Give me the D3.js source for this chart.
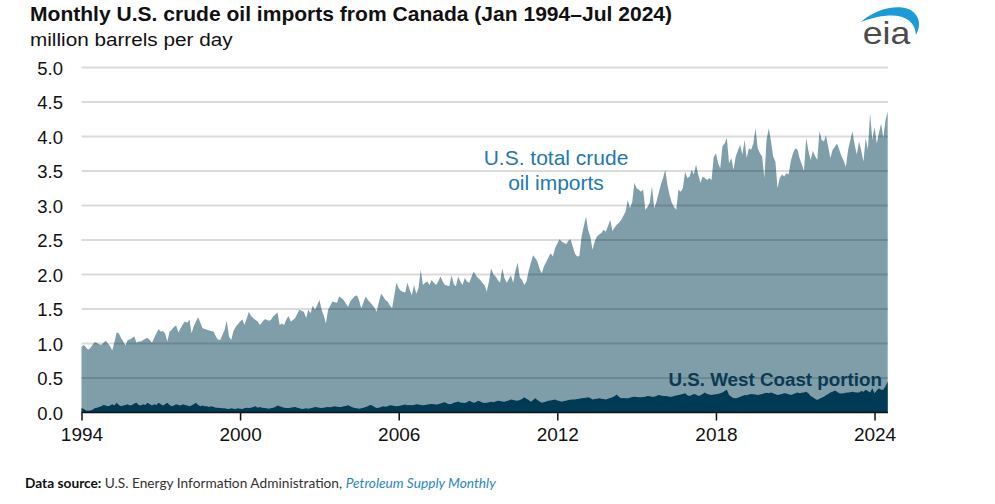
<!DOCTYPE html>
<html>
<head>
<meta charset="utf-8">
<script src="https://cdn.jsdelivr.net/npm/d3@7"></script>
<style>
  html, body { margin: 0; padding: 0; background: #fff; }
  svg { display: block; }
  text { font-family: "Liberation Sans", Arial, sans-serif; }
</style>
</head>
<body>
<div id="chart"></div>
<script>
// ---- Data (million barrels per day), monthly Jan 1994 – Jul 2024 ----
const totalImports = [
  0.95, 0.98, 0.95, 0.91, 0.93, 0.98, 1.02, 1.01, 0.99, 0.98, 1.01, 1.04, // 1994
  1.00, 0.96, 0.90, 1.02, 1.16, 1.15, 1.08, 1.03, 0.97, 1.05, 1.06, 1.08, // 1995
  1.10, 1.01, 1.03, 1.03, 1.05, 1.07, 1.08, 1.05, 1.01, 1.08, 1.15, 1.21, // 1996
  1.17, 1.18, 1.14, 1.03, 1.17, 1.20, 1.24, 1.26, 1.16, 1.22, 1.28, 1.32, // 1997
  1.30, 1.35, 1.15, 1.25, 1.32, 1.38, 1.30, 1.22, 1.21, 1.20, 1.19, 1.18, // 1998
  1.17, 1.10, 1.06, 1.05, 1.12, 1.20, 1.33, 1.10, 1.05, 1.18, 1.24, 1.28, // 1999
  1.32, 1.35, 1.27, 1.36, 1.46, 1.40, 1.37, 1.34, 1.32, 1.27, 1.31, 1.35, // 2000
  1.35, 1.33, 1.34, 1.39, 1.42, 1.45, 1.27, 1.29, 1.27, 1.35, 1.40, 1.32, // 2001
  1.34, 1.37, 1.43, 1.49, 1.47, 1.46, 1.37, 1.49, 1.44, 1.55, 1.49, 1.56, // 2002
  1.63, 1.49, 1.41, 1.29, 1.49, 1.55, 1.61, 1.60, 1.59, 1.68, 1.66, 1.63, // 2003
  1.58, 1.53, 1.61, 1.65, 1.68, 1.70, 1.63, 1.51, 1.60, 1.68, 1.63, 1.60, // 2004
  1.56, 1.52, 1.46, 1.60, 1.72, 1.68, 1.63, 1.61, 1.55, 1.51, 1.70, 1.88, // 2005
  1.80, 1.76, 1.75, 1.74, 1.88, 1.78, 1.70, 1.85, 1.72, 1.80, 2.07, 1.85, // 2006
  1.88, 1.90, 1.85, 1.92, 1.88, 1.85, 1.90, 1.97, 1.90, 1.85, 1.84, 1.83, // 2007
  1.99, 1.86, 1.83, 1.97, 1.90, 1.85, 1.95, 1.90, 1.88, 1.96, 2.04, 1.99, // 2008
  1.95, 1.92, 1.88, 1.85, 1.75, 1.90, 2.09, 2.00, 1.97, 1.92, 1.88, 2.09, // 2009
  1.95, 1.88, 1.93, 1.99, 1.88, 2.05, 2.17, 1.96, 1.92, 1.85, 1.90, 2.05, // 2010
  2.17, 2.28, 2.24, 2.19, 2.08, 2.02, 2.12, 2.18, 2.25, 2.31, 2.26, 2.38, // 2011
  2.45, 2.51, 2.48, 2.46, 2.44, 2.49, 2.51, 2.41, 2.30, 2.26, 2.27, 2.55, // 2012
  2.70, 2.84, 2.65, 2.55, 2.36, 2.48, 2.55, 2.58, 2.60, 2.65, 2.62, 2.70, // 2013
  2.79, 2.63, 2.68, 2.72, 2.75, 2.79, 2.85, 2.91, 3.08, 2.96, 3.05, 3.33, // 2014
  3.25, 3.23, 3.20, 3.23, 2.94, 2.98, 3.04, 3.28, 2.96, 3.05, 3.18, 3.30, // 2015
  3.40, 3.52, 3.30, 3.15, 3.04, 2.98, 2.94, 3.23, 3.20, 3.25, 3.49, 3.40, // 2016
  3.42, 3.52, 3.45, 3.59, 3.45, 3.33, 3.42, 3.40, 3.37, 3.40, 3.37, 3.70, // 2017
  3.76, 3.61, 3.54, 3.86, 3.90, 3.98, 3.61, 3.69, 3.52, 3.71, 3.80, 3.88, // 2018
  3.74, 3.95, 3.69, 3.83, 3.81, 3.90, 4.12, 3.83, 3.76, 3.71, 3.40, 3.95, // 2019
  4.12, 3.93, 3.71, 3.64, 3.25, 3.40, 3.45, 3.42, 3.47, 3.45, 3.65, 3.76, // 2020
  3.83, 3.81, 3.69, 3.60, 3.50, 3.98, 3.80, 3.66, 3.79, 3.72, 3.66, 4.08, // 2021
  3.95, 3.93, 4.02, 3.85, 3.69, 3.81, 3.85, 3.90, 3.81, 3.72, 3.65, 3.56, // 2022
  3.81, 3.95, 4.08, 3.88, 3.74, 3.93, 3.80, 3.64, 3.98, 3.81, 4.34, 3.95, // 2023
  4.14, 3.90, 4.05, 4.19, 3.98, 4.24, 4.36                                // 2024
];

const westCoast = [
  0.065, 0.05, 0.03, 0.025, 0.03, 0.04, 0.06, 0.07, 0.08, 0.09, 0.11, 0.10, // 1994
  0.09, 0.10, 0.12, 0.10, 0.14, 0.11, 0.09, 0.10, 0.11, 0.12, 0.10, 0.11,   // 1995
  0.13, 0.14, 0.11, 0.10, 0.12, 0.11, 0.14, 0.12, 0.10, 0.12, 0.11, 0.14,   // 1996
  0.12, 0.10, 0.12, 0.14, 0.11, 0.09, 0.10, 0.12, 0.11, 0.10, 0.12, 0.11,   // 1997
  0.10, 0.09, 0.10, 0.12, 0.14, 0.11, 0.09, 0.10, 0.09, 0.09, 0.08, 0.09,   // 1998
  0.08, 0.07, 0.07, 0.065, 0.06, 0.06, 0.055, 0.05, 0.06, 0.055, 0.05, 0.06, // 1999
  0.055, 0.05, 0.06, 0.07, 0.065, 0.07, 0.08, 0.09, 0.07, 0.08, 0.07, 0.065, // 2000
  0.06, 0.055, 0.06, 0.07, 0.08, 0.10, 0.09, 0.08, 0.07, 0.065, 0.065, 0.07, // 2001
  0.075, 0.08, 0.07, 0.06, 0.05, 0.055, 0.06, 0.055, 0.06, 0.07, 0.08, 0.075, // 2002
  0.07, 0.065, 0.07, 0.075, 0.08, 0.075, 0.085, 0.09, 0.085, 0.08, 0.08, 0.09, // 2003
  0.095, 0.105, 0.09, 0.075, 0.065, 0.06, 0.055, 0.06, 0.07, 0.08, 0.09, 0.11, // 2004
  0.10, 0.08, 0.065, 0.07, 0.08, 0.09, 0.085, 0.09, 0.105, 0.10, 0.095, 0.09, // 2005
  0.095, 0.10, 0.11, 0.115, 0.105, 0.11, 0.105, 0.11, 0.12, 0.115, 0.11, 0.105, // 2006
  0.11, 0.115, 0.12, 0.125, 0.12, 0.115, 0.12, 0.13, 0.14, 0.15, 0.13, 0.12, // 2007
  0.125, 0.14, 0.15, 0.16, 0.145, 0.14, 0.138, 0.15, 0.17, 0.155, 0.14, 0.15, // 2008
  0.17, 0.16, 0.145, 0.138, 0.14, 0.15, 0.157, 0.15, 0.16, 0.17, 0.165, 0.16, // 2009
  0.157, 0.165, 0.175, 0.19, 0.18, 0.175, 0.17, 0.18, 0.195, 0.22, 0.20, 0.18, // 2010
  0.157, 0.18, 0.206, 0.18, 0.16, 0.14, 0.15, 0.16, 0.17, 0.175, 0.18, 0.19, // 2011
  0.175, 0.165, 0.157, 0.165, 0.17, 0.18, 0.185, 0.19, 0.19, 0.195, 0.20, 0.206, // 2012
  0.21, 0.215, 0.22, 0.21, 0.19, 0.195, 0.20, 0.206, 0.20, 0.195, 0.19, 0.20, // 2013
  0.21, 0.22, 0.235, 0.26, 0.23, 0.206, 0.21, 0.205, 0.206, 0.215, 0.225, 0.23, // 2014
  0.225, 0.22, 0.22, 0.225, 0.23, 0.24, 0.235, 0.23, 0.23, 0.24, 0.254, 0.245, // 2015
  0.24, 0.24, 0.235, 0.23, 0.23, 0.24, 0.245, 0.254, 0.26, 0.27, 0.28, 0.25, // 2016
  0.24, 0.255, 0.27, 0.26, 0.24, 0.25, 0.27, 0.29, 0.27, 0.26, 0.254, 0.26, // 2017
  0.265, 0.27, 0.28, 0.29, 0.31, 0.33, 0.254, 0.23, 0.21, 0.206, 0.215, 0.23, // 2018
  0.24, 0.254, 0.25, 0.26, 0.27, 0.265, 0.26, 0.254, 0.26, 0.27, 0.28, 0.285, // 2019
  0.28, 0.29, 0.28, 0.265, 0.254, 0.26, 0.27, 0.28, 0.275, 0.265, 0.254, 0.265, // 2020
  0.28, 0.29, 0.28, 0.285, 0.29, 0.30, 0.28, 0.24, 0.22, 0.20, 0.18, 0.20, // 2021
  0.215, 0.23, 0.25, 0.27, 0.29, 0.30, 0.32, 0.30, 0.28, 0.275, 0.28, 0.285, // 2022
  0.29, 0.295, 0.30, 0.295, 0.29, 0.29, 0.31, 0.30, 0.33, 0.31, 0.29, 0.35, // 2023
  0.28, 0.32, 0.35, 0.33, 0.33, 0.38, 0.45                                   // 2024
];

const firstMonth = [1994, 0];          // Jan 1994
const lastMonth = [2024, 6];           // Jul 2024
const xTickYears = [1994, 2000, 2006, 2012, 2018, 2024];
const yTickValues = [0, 0.5, 1, 1.5, 2, 2.5, 3, 3.5, 4, 4.5, 5];

const titleText = "Monthly U.S. crude oil imports from Canada (Jan 1994\u2013Jul 2024)";
const unitText = "million barrels per day";
const totalLabel = ["U.S. total crude", "oil imports"];
const westLabel = "U.S. West Coast portion";

// ---- Drawing ----
const W = 995, H = 504;
const svg = d3.select("#chart").append("svg")
  .attr("width", W).attr("height", H)
  .attr("viewBox", `0 0 ${W} ${H}`);

svg.append("rect").attr("width", W).attr("height", H).attr("fill", "#fff");

const start = new Date(firstMonth[0], firstMonth[1], 1);
const end = new Date(lastMonth[0], lastMonth[1], 1);
const dates = totalImports.map((d, i) => d3.timeMonth.offset(start, i));

const x = d3.scaleTime().domain([start, end]).range([81.5, 887.7]);
const y = d3.scaleLinear().domain([0, 5]).range([412.5, 67.6]);

const totalSeries = totalImports.map((v, i) => ({ date: dates[i], v }));
const westSeries = westCoast.map((v, i) => ({ date: dates[i], v }));

const area = d3.area()
  .x(d => x(d.date))
  .y0(y(0))
  .y1(d => y(d.v));

svg.append("path").datum(totalSeries)
  .attr("d", area)
  .attr("fill", "#7f9eaa");

svg.append("path").datum(westSeries)
  .attr("d", area)
  .attr("fill", "#003a54");

// gridlines (drawn over the areas, translucent)
const grid = svg.append("g");
grid.selectAll("line")
  .data(yTickValues.filter(v => v > 0))
  .join("line")
  .attr("x1", 81.5).attr("x2", 888)
  .attr("y1", d => y(d)).attr("y2", d => y(d))
  .attr("stroke", "#000")
  .attr("stroke-opacity", 0.14)
  .attr("stroke-width", 2);

const yAxis = d3.axisLeft(y)
  .tickValues(yTickValues)
  .tickFormat(d3.format(".1f"))
  .tickSize(0)
  .tickPadding(0);

const gy = svg.append("g").attr("transform", "translate(63,0)").call(yAxis);
gy.select(".domain").remove();
gy.selectAll("text")
  .attr("font-family", "'Liberation Sans', Arial, sans-serif")
  .attr("font-size", 18.5)
  .attr("fill", "#111")
  .attr("dy", "0.36em");

// x axis
const xAxis = d3.axisBottom(x)
  .tickValues(xTickYears.map(yy => new Date(yy, 0, 1)))
  .tickFormat(d3.timeFormat("%Y"))
  .tickSize(8)
  .tickSizeOuter(0)
  .tickPadding(7);

const gx = svg.append("g").attr("transform", `translate(0,${y(0)})`).call(xAxis);
gx.select(".domain").attr("stroke", "#111").attr("stroke-width", 1.5)
  .attr("d", `M81.5,0H888`);
gx.selectAll(".tick line").attr("stroke", "#111").attr("stroke-width", 1.5);
gx.selectAll("text")
  .attr("font-family", "'Liberation Sans', Arial, sans-serif")
  .attr("font-size", 19)
  .attr("fill", "#111");

// helper: text with slight horizontal stretch (matches the wide lettering of the original)
function stretchedText(px, py, sx, anchor) {
  return svg.append("g")
    .attr("transform", `translate(${px},${py}) scale(${sx},1)`)
    .append("text")
    .attr("x", 0).attr("y", 0)
    .attr("text-anchor", anchor || "start");
}

// titles
stretchedText(30, 20.5, 1.08)
  .attr("font-size", 19.5).attr("font-weight", "bold").attr("fill", "#111")
  .text(titleText);

stretchedText(30, 45.5, 1.12)
  .attr("font-size", 18.5).attr("fill", "#111")
  .text(unitText);

// annotations
const lbl = stretchedText(556, 0, 1.05, "middle")
  .attr("font-size", 20)
  .attr("fill", "#2178ad");
lbl.selectAll("tspan").data(totalLabel).join("tspan")
  .attr("x", 0)
  .attr("y", (d, i) => 165 + i * 25)
  .text(d => d);

stretchedText(882, 386, 1.044, "end")
  .attr("font-size", 18).attr("font-weight", "bold")
  .attr("fill", "#0b3a55")
  .text(westLabel);

// source line
const src = stretchedText(25, 488, 1.055)
  .attr("font-family", "Lato, 'Open Sans', sans-serif")
  .attr("font-size", 13)
  .attr("fill", "#333");
src.append("tspan").attr("font-weight", "bold").attr("fill", "#111")
  .style("font-family", "Lato, 'Open Sans', sans-serif").text("Data source: ");
src.append("tspan").style("font-family", "Lato, 'Open Sans', sans-serif")
  .text("U.S. Energy Information Administration, ");
src.append("tspan").attr("font-style", "italic").attr("fill", "#2a86c4")
  .style("font-family", "Lato, 'Open Sans', sans-serif")
  .text("Petroleum Supply Monthly");

// eia logo
svg.append("path")
  .attr("d", "M861,22 C876,8 906,1 916,15 C921,22 919,29 916,35 C915,17 896,9 861,22 Z")
  .attr("fill", "#1a9ad6");
stretchedText(886.5, 43.5, 1.15, "middle")
  .attr("font-family", "Roboto, 'Open Sans', sans-serif")
  .attr("font-weight", 500)
  .attr("font-size", 31)
  .attr("fill", "#4b4b4b")
  .text("eia");
</script>
</body>
</html>
